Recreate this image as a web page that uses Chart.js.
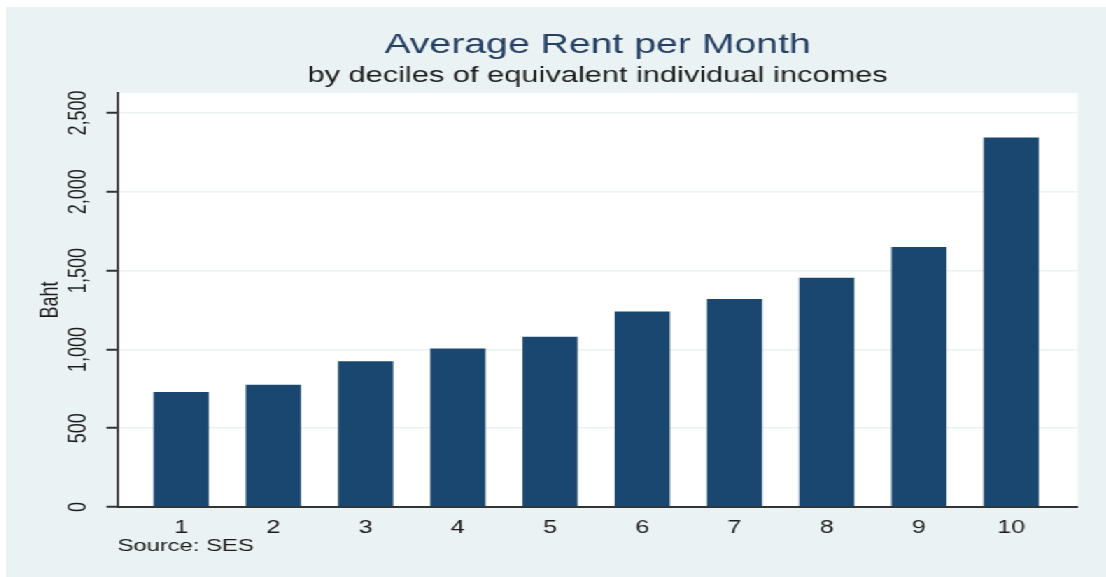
<!DOCTYPE html>
<html>
<head>
<meta charset="utf-8">
<script src="https://cdn.jsdelivr.net/npm/chart.js@4"></script>
<style>
  body { margin: 0; background: #ffffff; }
  #wrap {
    position: absolute; left: 6px; top: 7px;
    width: 786px; height: 570px;
    background: #eaf2f3;
    transform: scaleX(1.3995); transform-origin: 0 0;
  }
</style>
</head>
<body>
<div id="wrap"><canvas id="rent-chart"></canvas></div>
<script>
// deciles of equivalent individual incomes
const deciles = [1, 2, 3, 4, 5, 6, 7, 8, 9, 10];
const avgRent = [730, 775, 925, 1005, 1080, 1240, 1320, 1455, 1650, 2345];
const yTicks = [0, 500, 1000, 1500, 2000, 2500];

const FONT = "'Liberation Sans', Arial, sans-serif";

// white plot region like stata's
const plotBg = {
    id: "plotBg",
    beforeDraw(chart) {
        const a = chart.chartArea;
        chart.ctx.save();
        chart.ctx.fillStyle = "#ffffff";
        chart.ctx.fillRect(a.left, a.top, a.right - a.left, a.bottom - a.top);
        chart.ctx.restore();
    }
};

const ctx = document.getElementById("rent-chart").getContext("2d");

var chart = new Chart(ctx, {
    type: "bar",
    data: {
        datasets: [
            {
                label: "Baht",
                data: deciles.map((d, i) => ({ x: d, y: avgRent[i] })),
                backgroundColor: "#1a476f",
                borderWidth: 0,
                barPercentage: 0.598,
                categoryPercentage: 1
            }
        ]
    },
    options: {
        responsive: true,
        maintainAspectRatio: false,
        animation: false,
        locale: "en-US",
        layout: { padding: { left: 21.3, right: 20.3, top: 0, bottom: 20 } },
        plugins: {
            legend: { display: false },
            tooltip: { enabled: false },
            title: {
                display: true,
                text: "Average Rent per Month",
                fullSize: false,
                color: "#253f63",
                font: { family: FONT, size: 28, weight: "normal", lineHeight: 1.2 },
                padding: { top: 21.5, bottom: 0 }
            },
            subtitle: {
                display: true,
                text: "by deciles of equivalent individual incomes",
                fullSize: false,
                color: "#1c1c1c",
                font: { family: FONT, size: 22, weight: "normal", lineHeight: 1.2 },
                padding: { top: 0.7, bottom: 3.8 }
            }
        },
        scales: {
            x: {
                type: "linear",
                offset: false,
                min: 0.31,
                max: 10.72,
                grid: { display: false, drawTicks: false, tickLength: 0 },
                border: { display: true, color: "#333333", width: 2 },
                afterBuildTicks: (axis) => { axis.ticks = deciles.map(v => ({ value: v })); },
                ticks: {
                    includeBounds: false,
                    stepSize: 1,
                    padding: 10,
                    color: "#1c1c1c",
                    font: { family: FONT, size: 18 },
                    maxRotation: 0
                },
                title: {
                    display: true,
                    text: "Source: SES",
                    align: "start",
                    color: "#1c1c1c",
                    font: { family: FONT, size: 17 },
                    padding: { top: -12, bottom: 0 }
                }
            },
            y: {
                min: 0,
                max: 2627,
                afterBuildTicks: (axis) => { axis.ticks = yTicks.map(v => ({ value: v })); },
                grid: {
                    color: "#eaf2f3",
                    lineWidth: 1.5,
                    tickColor: "#333333",
                    tickWidth: 2,
                    tickLength: 7.9
                },
                border: { display: true, color: "#333333", width: 1.8 },
                ticks: {
                    includeBounds: false,
                    stepSize: 500,
                    minRotation: 90,
                    maxRotation: 90,
                    crossAlign: "center",
                    padding: -2.5,
                    color: "#1c1c1c",
                    font: { family: FONT, size: 18 }
                },
                title: {
                    display: true,
                    text: "Baht",
                    color: "#1c1c1c",
                    font: { family: FONT, size: 18 },
                    padding: { top: 0, bottom: 12.3 }
                }
            }
        }
    },
    plugins: [plotBg]
});
</script>
</body>
</html>
